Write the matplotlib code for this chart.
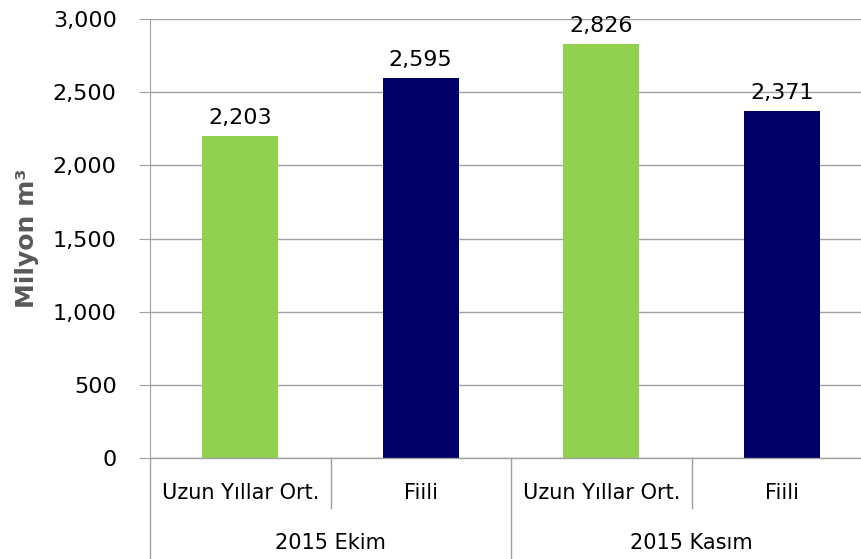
import matplotlib

matplotlib.use("Agg")

import matplotlib.pyplot as plt
import matplotlib.transforms as mtransforms
from matplotlib.ticker import FuncFormatter

groups = ["2015 Ekim", "2015 Kasım"]
sub_labels = ["Uzun Yıllar Ort.", "Fiili"]
values = [2203, 2595, 2826, 2371]
colors = ["#92D050", "#000066", "#92D050", "#000066"]

fig = plt.figure(figsize=(8.61, 5.59), dpi=100)
ax = fig.add_axes([150 / 861, 1 - 458 / 559, 722 / 861, 439 / 559])

x = list(range(len(values)))
ax.bar(x, values, width=0.42, color=colors, zorder=3)

for xi, v in zip(x, values):
    ax.text(xi, v + 55, f"{v:,}", ha="center", va="bottom", fontsize=16, color="black")

ax.set_xlim(-0.5, len(values) - 0.5)
ax.set_ylim(0, 3000)
ax.set_yticks(range(0, 3001, 500))
ax.yaxis.set_major_formatter(FuncFormatter(lambda v, _: f"{int(v):,}"))
ax.tick_params(axis="y", labelsize=16, length=8, color="#A0A0A0", pad=16)
ax.set_xticks([])
ax.grid(axis="y", color="#A0A0A0", linewidth=1, zorder=0)
for side in ["top", "right", "bottom"]:
    ax.spines[side].set_visible(False)
ax.spines["left"].set_color("#A0A0A0")
ax.axhline(0, color="#A0A0A0", linewidth=1, zorder=4, clip_on=False)

ax.set_ylabel("Milyon m³", fontsize=18, fontweight="bold", color="#595959", labelpad=10)

trans = mtransforms.blended_transform_factory(ax.transData, ax.transAxes)
n_sub = len(sub_labels)
for i in range(len(values)):
    ax.text(i, -0.080, sub_labels[i % n_sub], transform=trans, ha="center", va="center", fontsize=15)
    if i % n_sub != 0:
        ax.plot([i - 0.5, i - 0.5], [0, -0.114], transform=trans, color="#A0A0A0", lw=1, clip_on=False)
for g, name in enumerate(groups):
    center = g * n_sub + (n_sub - 1) / 2
    ax.text(center, -0.194, name, transform=trans, ha="center", va="center", fontsize=15)
for g in range(len(groups) + 1):
    xb = g * n_sub - 0.5
    ax.plot([xb, xb], [0, -0.25], transform=trans, color="#A0A0A0", lw=1, clip_on=False)

fig.savefig("out.png", dpi=100)
plt.close(fig)
